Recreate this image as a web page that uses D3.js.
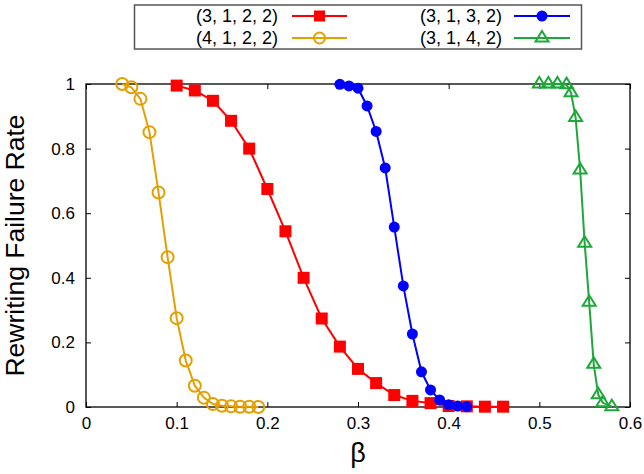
<!DOCTYPE html>
<html>
<head>
<meta charset="utf-8">
<script src="https://cdn.jsdelivr.net/npm/d3@7"></script>
<style>
  html, body { margin: 0; padding: 0; background: #fff; }
  svg { display: block; font-family: "Liberation Sans", Arial, sans-serif; }
</style>
</head>
<body>
<svg id="chart" width="644" height="474"></svg>
<script>
// ---- data ----
const xTicks = [0, 0.1, 0.2, 0.3, 0.4, 0.5, 0.6];
const yTicks = [0, 0.2, 0.4, 0.6, 0.8, 1];
const xTickLabels = ["0", "0.1", "0.2", "0.3", "0.4", "0.5", "0.6"];
const yTickLabels = ["0", "0.2", "0.4", "0.6", "0.8", "1"];

const seriesNames = ["(3, 1, 2, 2)", "(3, 1, 3, 2)", "(4, 1, 2, 2)", "(3, 1, 4, 2)"];

const redBeta = [0.10, 0.12, 0.14, 0.16, 0.18, 0.20, 0.22, 0.24, 0.26, 0.28, 0.30, 0.32, 0.34, 0.36, 0.38, 0.40, 0.42, 0.44, 0.46];
const redVals = [0.995, 0.98, 0.948, 0.886, 0.80, 0.675, 0.544, 0.40, 0.274, 0.187, 0.118, 0.074, 0.037, 0.019, 0.012, 0.003, 0.002, 0.001, 0.001];

const blueBeta = [0.28, 0.29, 0.30, 0.31, 0.32, 0.33, 0.34, 0.35, 0.36, 0.37, 0.38, 0.39, 0.40, 0.41, 0.42];
const blueVals = [0.999, 0.994, 0.987, 0.932, 0.853, 0.74, 0.557, 0.375, 0.226, 0.109, 0.053, 0.022, 0.007, 0.003, 0.001];

const orangeBeta = [0.04, 0.05, 0.06, 0.07, 0.08, 0.09, 0.10, 0.11, 0.12, 0.13, 0.14, 0.15, 0.16, 0.17, 0.18, 0.19];
const orangeVals = [1.0, 0.99, 0.954, 0.851, 0.664, 0.464, 0.275, 0.144, 0.066, 0.029, 0.009, 0.004, 0.002, 0.001, 0.001, 0.0];

const greenBeta = [0.50, 0.51, 0.52, 0.53, 0.535, 0.54, 0.545, 0.55, 0.555, 0.56, 0.565, 0.57, 0.58];
const greenVals = [1.0, 1.0, 1.0, 0.998, 0.973, 0.896, 0.734, 0.507, 0.324, 0.132, 0.038, 0.013, 0.001];

// ---- layout ----
const svg = d3.select("#chart");
const L = 86, R = 630, T = 84, B = 407;
const x = d3.scaleLinear().domain([0, 0.6]).range([L, R]);
const y = d3.scaleLinear().domain([0, 1]).range([B, T]);

const series = [
  { name: seriesNames[0], xs: redBeta, ys: redVals, color: "#ff0000", marker: "square" },
  { name: seriesNames[1], xs: blueBeta, ys: blueVals, color: "#0000ff", marker: "dot" },
  { name: seriesNames[2], xs: orangeBeta, ys: orangeVals, color: "#e69f00", marker: "circle" },
  { name: seriesNames[3], xs: greenBeta, ys: greenVals, color: "#1fa83a", marker: "triangle" }
];

// ---- axes (inward ticks, mirrored) ----
const tickLen = 5;
const axG = svg.append("g");
axG.append("g").attr("transform", `translate(0,${B})`)
  .call(d3.axisBottom(x).tickValues(xTicks).tickSize(-tickLen).tickPadding(10)
    .tickFormat((d, i) => xTickLabels[i]));
axG.append("g").attr("transform", `translate(0,${T})`)
  .call(d3.axisTop(x).tickValues(xTicks).tickSize(-tickLen).tickFormat(""));
axG.append("g").attr("transform", `translate(${L},0)`)
  .call(d3.axisLeft(y).tickValues(yTicks).tickSize(-tickLen).tickPadding(11)
    .tickFormat((d, i) => yTickLabels[i]));
axG.append("g").attr("transform", `translate(${R},0)`)
  .call(d3.axisRight(y).tickValues(yTicks).tickSize(-tickLen).tickFormat(""));
axG.selectAll(".domain").remove();
axG.selectAll(".tick line").attr("stroke", "#000").attr("stroke-width", 1);
axG.selectAll(".tick text").attr("font-size", 17).attr("fill", "#000")
  .attr("font-family", "'Liberation Sans', Arial, sans-serif");

svg.append("rect").attr("x", L).attr("y", T).attr("width", R - L).attr("height", B - T)
  .attr("fill", "none").attr("stroke", "#000").attr("stroke-width", 1.3);

// axis labels
svg.append("text").attr("transform", `translate(24,${(T + B) / 2}) rotate(-90)`)
  .attr("text-anchor", "middle").attr("font-size", 26.5).text("Rewriting Failure Rate");
svg.append("text").attr("x", x(0.3)).attr("y", 462)
  .attr("text-anchor", "middle").attr("font-size", 27).text("β");

// ---- markers ----
function drawMarker(g, type, color, cx, cy, legend) {
  if (type === "square") {
    const s = legend ? 11 : 12;
    g.append("rect").attr("x", cx - s / 2).attr("y", cy - s / 2).attr("width", s).attr("height", s)
      .attr("fill", color);
  } else if (type === "dot") {
    g.append("circle").attr("cx", cx).attr("cy", cy).attr("r", 5.5).attr("fill", color);
  } else if (type === "circle") {
    g.append("circle").attr("cx", cx).attr("cy", cy).attr("r", legend ? 5.5 : 6)
      .attr("fill", "none").attr("stroke", color).attr("stroke-width", 2);
  } else if (type === "triangle") {
    const p = d3.path();
    p.moveTo(cx, cy - 7); p.lineTo(cx + 6.5, cy + 3.5); p.lineTo(cx - 6.5, cy + 3.5); p.closePath();
    g.append("path").attr("d", p.toString()).attr("fill", "none")
      .attr("stroke", color).attr("stroke-width", 2).attr("stroke-linejoin", "miter");
  }
}

const line = d3.line().x(d => x(d[0])).y(d => y(d[1]));
const plotG = svg.append("g");
series.forEach(s => {
  const pts = s.xs.map((b, i) => [b, s.ys[i]]);
  const g = plotG.append("g");
  g.append("path").attr("d", line(pts)).attr("fill", "none")
    .attr("stroke", s.color).attr("stroke-width", 2);
  pts.forEach(p => drawMarker(g, s.marker, s.color, x(p[0]), y(p[1]), false));
});

// ---- legend ----
const lg = svg.append("g");
lg.append("rect").attr("x", 134.5).attr("y", 5).attr("width", 447).attr("height", 44)
  .attr("fill", "#fff").attr("stroke", "#555").attr("stroke-width", 1.5);
const cols = [{ textEnd: 278, l0: 292, l1: 347 }, { textEnd: 502, l0: 514, l1: 570 }];
const rows = [16, 38];
series.forEach((s, i) => {
  const c = cols[i % 2], ry = rows[Math.floor(i / 2)];
  lg.append("text").attr("x", c.textEnd).attr("y", ry).attr("dy", "0.35em")
    .attr("text-anchor", "end").attr("font-size", 18).text(s.name);
  lg.append("line").attr("x1", c.l0).attr("x2", c.l1).attr("y1", ry).attr("y2", ry)
    .attr("stroke", s.color).attr("stroke-width", 2);
  drawMarker(lg, s.marker, s.color, (c.l0 + c.l1) / 2, ry, true);
});
</script>
</body>
</html>
